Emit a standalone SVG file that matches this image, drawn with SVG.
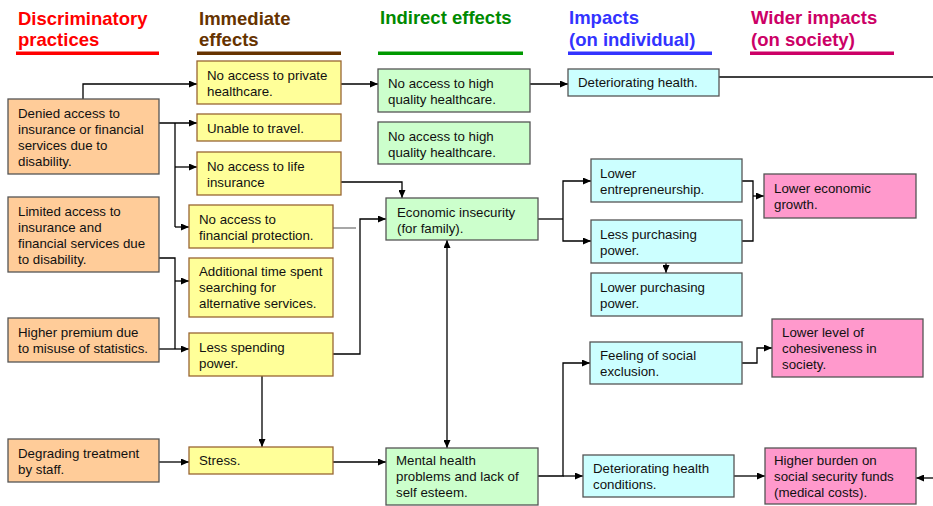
<svg xmlns="http://www.w3.org/2000/svg" width="933" height="506" viewBox="0 0 933 506">
<defs>
<marker id="ah" markerUnits="userSpaceOnUse" markerWidth="8" markerHeight="7" refX="8" refY="3.5" orient="auto-start-reverse">
<path d="M0,0 L8,3.5 L0,7 z" fill="#000"/>
</marker>
<style>
text{font-family:"Liberation Sans",Arial,sans-serif;}
.h{font-size:18.5px;font-weight:bold;}
.t{font-size:13.3px;fill:#111;}
.o{fill:#ffcc99;stroke:#555;stroke-width:1.3;}
.y{fill:#ffff99;stroke:#996633;stroke-width:1.3;}
.g{fill:#ccffcc;stroke:#555;stroke-width:1.3;}
.c{fill:#ccffff;stroke:#555;stroke-width:1.3;}
.p{fill:#ff99cc;stroke:#555;stroke-width:1.3;}
.l{fill:none;stroke:#000;stroke-width:1.3;}
.a{marker-end:url(#ah);}
</style>
</defs>
<rect width="933" height="506" fill="#fff"/>
<g id="headers">
<text class="h" x="18" y="25" fill="#ff0000">Discriminatory<tspan x="18" y="46">practices</tspan></text>
<rect x="16" y="51.5" width="143" height="3.5" fill="#ff0000"/>
<text class="h" x="199" y="25" fill="#663300">Immediate<tspan x="199" y="46">effects</tspan></text>
<rect x="197" y="51.5" width="144" height="3.5" fill="#663300"/>
<text class="h" x="380" y="24" fill="#008a00">Indirect effects</text>
<rect x="378" y="51.5" width="145" height="3.5" fill="#009900"/>
<text class="h" x="569" y="24" fill="#3333ff">Impacts<tspan x="569" y="46">(on individual)</tspan></text>
<rect x="568" y="51.5" width="144" height="3.5" fill="#3333ff"/>
<text class="h" x="751" y="24" fill="#cc0066">Wider impacts<tspan x="751" y="46">(on society)</tspan></text>
<rect x="750" y="51.5" width="144" height="3.5" fill="#cc0066"/>
</g>
<g id="connectors">
<path class="l a" d="M83,99 V84 H197"/>
<path class="l a" d="M159,123 H197"/>
<path class="l" d="M175,123 V227"/>
<path class="l a" d="M175,167 H197"/>
<path class="l a" d="M175,227 H189"/>
<path class="l" d="M159,258 H175 V349"/>
<path class="l a" d="M175,281 H189"/>
<path class="l a" d="M159,349 H189"/>
<path class="l a" d="M341,182 H402 V198"/>
<path d="M333,228 H356" fill="none" stroke="#777" stroke-width="1.3"/>
<path class="l a" d="M333,354 H360 V219 H386"/>
<path class="l a" d="M447,240 V448" marker-start="url(#ah)"/>
<path class="l a" d="M262,376 V447"/>
<path class="l a" d="M159,462 H189"/>
<path class="l a" d="M333,462 H386"/>
<path class="l a" d="M341,84 H378"/>
<path class="l a" d="M530,84 H568"/>
<path class="l" d="M719,77 H933"/>
<path class="l" d="M538,219 H563"/>
<path class="l a" d="M563,219 V181 H591"/>
<path class="l a" d="M563,219 V241 H591"/>
<path class="l" d="M742,181 H753 V241 H742"/>
<path class="l a" d="M753,196 H764"/>
<path class="l a" d="M666,263 V273"/>
<path class="l a" d="M538,476 H563 V363 H590"/>
<path class="l a" d="M563,476 H583"/>
<path class="l a" d="M742,363 H757 V348 H772"/>
<path class="l a" d="M734,476 H765"/>
<path class="l a" d="M933,478 H916"/>
</g>
<g id="n-denied"><rect class="o" x="8" y="99" width="151" height="75"/><text class="t" x="18" y="118">Denied access to<tspan x="18" dy="16">insurance or financial</tspan><tspan x="18" dy="16">services due to</tspan><tspan x="18" dy="16">disability.</tspan></text></g>
<g id="n-limited"><rect class="o" x="8" y="197" width="151" height="75"/><text class="t" x="18" y="216">Limited access to<tspan x="18" dy="16">insurance and</tspan><tspan x="18" dy="16">financial services due</tspan><tspan x="18" dy="16">to disability.</tspan></text></g>
<g id="n-premium"><rect class="o" x="8" y="318" width="151" height="44"/><text class="t" x="18" y="337">Higher premium due<tspan x="18" dy="16">to misuse of statistics.</tspan></text></g>
<g id="n-degrading"><rect class="o" x="8" y="439" width="151" height="43"/><text class="t" x="18" y="458">Degrading treatment<tspan x="18" dy="16">by staff.</tspan></text></g>
<g id="n-private"><rect class="y" x="197" y="61" width="144" height="43"/><text class="t" x="207" y="80">No access to private<tspan x="207" dy="16">healthcare.</tspan></text></g>
<g id="n-travel"><rect class="y" x="197" y="114" width="144" height="27"/><text class="t" x="207" y="133">Unable to travel.</text></g>
<g id="n-life"><rect class="y" x="197" y="152" width="144" height="43"/><text class="t" x="207" y="171">No access to life<tspan x="207" dy="16">insurance</tspan></text></g>
<g id="n-finprot"><rect class="y" x="189" y="205" width="144" height="43"/><text class="t" x="199" y="224">No access to<tspan x="199" dy="16">financial protection.</tspan></text></g>
<g id="n-time"><rect class="y" x="189" y="258" width="144" height="59"/><text class="t" x="199" y="276">Additional time spent<tspan x="199" dy="16">searching for</tspan><tspan x="199" dy="16">alternative services.</tspan></text></g>
<g id="n-spending"><rect class="y" x="189" y="333" width="144" height="43"/><text class="t" x="199" y="352">Less spending<tspan x="199" dy="16">power.</tspan></text></g>
<g id="n-stress"><rect class="y" x="189" y="447" width="144" height="27"/><text class="t" x="199" y="465">Stress.</text></g>
<g id="n-hq1"><rect class="g" x="378" y="69" width="152" height="43"/><text class="t" x="388" y="88">No access to high<tspan x="388" dy="16">quality healthcare.</tspan></text></g>
<g id="n-hq2"><rect class="g" x="378" y="122" width="152" height="42"/><text class="t" x="388" y="141">No access to high<tspan x="388" dy="16">quality healthcare.</tspan></text></g>
<g id="n-econ"><rect class="g" x="386" y="198" width="152" height="42"/><text class="t" x="397" y="217">Economic insecurity<tspan x="397" dy="16">(for family).</tspan></text></g>
<g id="n-mental"><rect class="g" x="386" y="448" width="152" height="57"/><text class="t" x="396" y="465">Mental health<tspan x="396" dy="16">problems and lack of</tspan><tspan x="396" dy="16">self esteem.</tspan></text></g>
<g id="n-dethealth"><rect class="c" x="568" y="69" width="151" height="27"/><text class="t" x="578" y="87">Deteriorating health.</text></g>
<g id="n-entre"><rect class="c" x="591" y="159" width="151" height="43"/><text class="t" x="600" y="178">Lower<tspan x="600" dy="16">entrepreneurship.</tspan></text></g>
<g id="n-lesspurch"><rect class="c" x="591" y="220" width="151" height="43"/><text class="t" x="600" y="239">Less purchasing<tspan x="600" dy="16">power.</tspan></text></g>
<g id="n-lowerpurch"><rect class="c" x="591" y="273" width="151" height="43"/><text class="t" x="600" y="292">Lower purchasing<tspan x="600" dy="16">power.</tspan></text></g>
<g id="n-exclusion"><rect class="c" x="590" y="342" width="152" height="42"/><text class="t" x="600" y="360">Feeling of social<tspan x="600" dy="16">exclusion.</tspan></text></g>
<g id="n-detcond"><rect class="c" x="583" y="455" width="151" height="42"/><text class="t" x="593" y="473">Deteriorating health<tspan x="593" dy="16">conditions.</tspan></text></g>
<g id="n-growth"><rect class="p" x="764" y="174" width="152" height="44"/><text class="t" x="774" y="193">Lower economic<tspan x="774" dy="16">growth.</tspan></text></g>
<g id="n-cohesion"><rect class="p" x="772" y="319" width="151" height="58"/><text class="t" x="782" y="337">Lower level of<tspan x="782" dy="16">cohesiveness in</tspan><tspan x="782" dy="16">society.</tspan></text></g>
<g id="n-burden"><rect class="p" x="765" y="448" width="151" height="56"/><text class="t" x="774" y="465">Higher burden on<tspan x="774" dy="16">social security funds</tspan><tspan x="774" dy="16">(medical costs).</tspan></text></g>
</svg>
